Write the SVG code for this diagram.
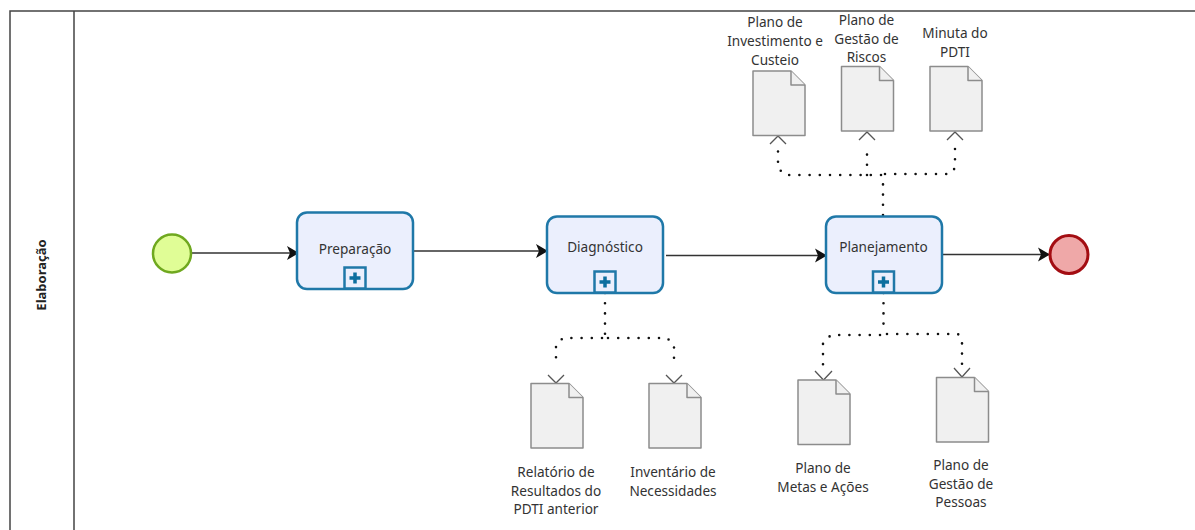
<svg xmlns="http://www.w3.org/2000/svg" width="1195" height="530" viewBox="0 0 1195 530">
<style>
text{font-family:"Noto Sans","DejaVu Sans",sans-serif;font-size:13.6px;fill:#333;text-anchor:middle}
.pool{fill:none;stroke:#444;stroke-width:1.5}
.task{fill:#ebeffd;stroke:#1f78a8;stroke-width:2.5}
.mk{fill:#ebeffd;stroke:#1f78a8;stroke-width:2.5}
.plus{fill:none;stroke:#0d6f9f;stroke-width:3.5}
.doc{fill:#f0f0f0;stroke:#8c8c8c;stroke-width:1.5;stroke-linejoin:round}
.flow{fill:none;stroke:#333;stroke-width:1.6;marker-end:url(#ah)}
.dot{fill:none;stroke:#111;stroke-width:2.6;stroke-linecap:round;stroke-dasharray:0 10.2}
.open{fill:none;stroke:#555;stroke-width:1.3}
</style>
<defs>
<marker id="ah" markerUnits="userSpaceOnUse" markerWidth="15" markerHeight="15" refX="13" refY="7.500" orient="auto">
<path d="M1,0.500 L13,7.500 L1,14.500 L4,7.500 Z" fill="#111"/>
</marker>
<g id="docshape">
<path class="doc" d="M0,0 H38 L52,14 V64.500 H0 Z"/>
<path class="doc" d="M38,0 V14 H52" fill="none"/>
</g>
<g id="marker">
<rect class="mk" x="-10.500" y="-10.500" width="21" height="21"/>
<path class="plus" d="M-5.500,0 H5.500 M0,-5.500 V5.500"/>
</g>
</defs>
<rect width="1195" height="530" fill="#fff"/>
<g id="pool">
<path class="pool" d="M1195,11 H10 V530 M74,11 V530"/>
<text transform="translate(46,275) rotate(-90)" style="font-weight:700;fill:#222;font-size:13px">Elaboração</text>
</g>
<g id="connectors">
<path class="flow" d="M191,253 H299"/>
<path class="flow" d="M413,251 H548"/>
<path class="flow" d="M666,255.500 H827"/>
<path class="flow" d="M942,254.500 H1050"/>
<path class="dot" d="M883,215 V176"/>
<path class="dot" d="M881,175 H785 L778,168 V146"/>
<path class="dot" d="M867,175 V145"/>
<path class="dot" d="M885,174 H950 L955,168 V144"/>
<path class="dot" d="M605,293 V335"/>
<path class="dot" d="M602,338 H563 L556,345 V366"/>
<path class="dot" d="M608,338 H667 L674,345 V366"/>
<path class="dot" d="M883.500,293 V333"/>
<path class="dot" d="M880,335 H831 L823,343 V366"/>
<path class="dot" d="M887,334 H958 L962,340 V367"/>
<path class="open" d="M770,144 L778,136 L786,144"/>
<path class="open" d="M859,140 L867,132 L875,140"/>
<path class="open" d="M947,140 L955,132 L963,140"/>
<path class="open" d="M548,375 L556,383 L564,375"/>
<path class="open" d="M666,375 L674,383 L682,375"/>
<path class="open" d="M815,371 L823.500,380 L832,371"/>
<path class="open" d="M954,368 L962,377 L970,368"/>
</g>
<g id="start"><circle cx="172" cy="253.500" r="19" fill="#e0fd96" stroke="#6fa81f" stroke-width="2.500"/></g>
<g id="end"><circle cx="1069" cy="254.500" r="19" fill="#efa8a8" stroke="#a30d12" stroke-width="3"/></g>
<g id="preparacao"><rect class="task" x="297" y="212.500" width="116" height="76.500" rx="10"/><use href="#marker" x="355" y="278"/><text x="355" y="254">Preparação</text></g>
<g id="diagnostico"><rect class="task" x="547" y="216.500" width="116" height="76.500" rx="10"/><use href="#marker" x="605" y="282"/><text x="605" y="251.500">Diagnóstico</text></g>
<g id="planejamento"><rect class="task" x="826" y="216.500" width="116" height="76.500" rx="10"/><use href="#marker" x="883.500" y="282"/><text x="883.500" y="251.500">Planejamento</text></g>
<g id="doc-investimento"><use href="#docshape" x="753" y="71"/><text x="775" y="27">Plano de</text><text x="775" y="46">Investimento e</text><text x="775" y="65">Custeio</text></g>
<g id="doc-riscos"><use href="#docshape" x="841.500" y="66.500"/><text x="866.500" y="25">Plano de</text><text x="866.500" y="44">Gestão de</text><text x="866.500" y="62">Riscos</text></g>
<g id="doc-minuta"><use href="#docshape" x="930" y="66.500"/><text x="955" y="38">Minuta do</text><text x="955" y="57">PDTI</text></g>
<g id="doc-relatorio"><use href="#docshape" x="531" y="383.500"/><text x="556" y="477">Relatório de</text><text x="556" y="496">Resultados do</text><text x="556" y="514">PDTI anterior</text></g>
<g id="doc-inventario"><use href="#docshape" x="649" y="383.500"/><text x="673" y="477">Inventário de</text><text x="673" y="496">Necessidades</text></g>
<g id="doc-metas"><use href="#docshape" x="798" y="380"/><text x="823" y="473">Plano de</text><text x="823" y="492">Metas e Ações</text></g>
<g id="doc-pessoas"><use href="#docshape" x="936.500" y="377.500"/><text x="961" y="470">Plano de</text><text x="961" y="489">Gestão de</text><text x="961" y="507">Pessoas</text></g>
</svg>
